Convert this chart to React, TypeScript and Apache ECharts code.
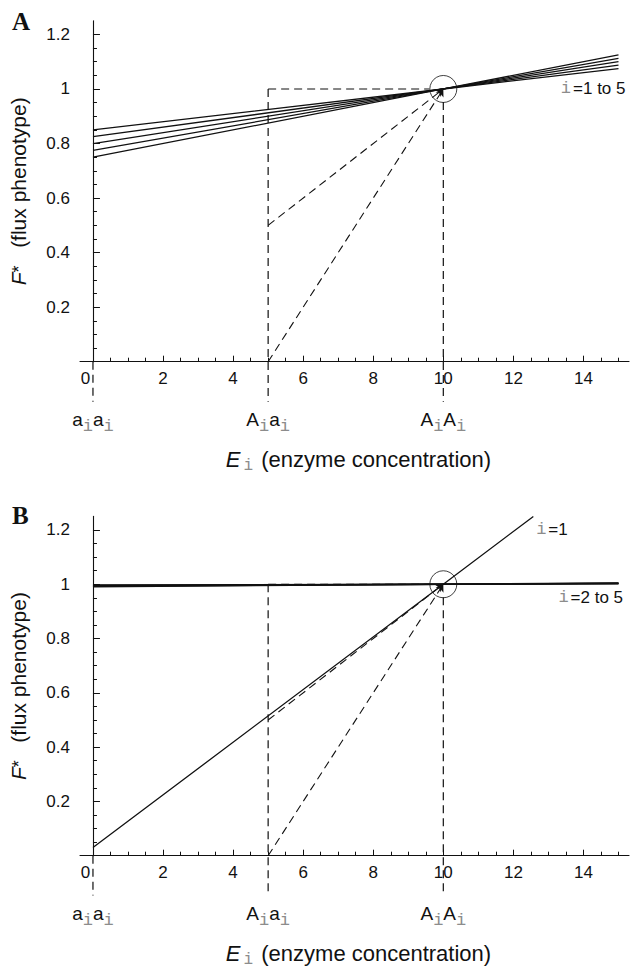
import React, { useEffect, useRef } from "react";
import * as echarts from "echarts";

// ---------- data ----------
const lineE = [0, 10, 15];
const panelAFlux = [
  [0.85, 1, 1.075],
  [0.825, 1, 1.0875],
  [0.8, 1, 1.1],
  [0.775, 1, 1.1125],
  [0.75, 1, 1.125],
];
const panelBSteepE = [0, 10, 12.57];
const panelBSteepFlux = [0.03, 1, 1.25];
const panelBFlatFlux = [
  [0.997, 1, 1.0015],
  [0.995, 1, 1.0025],
  [0.993, 1, 1.0035],
  [0.991, 1, 1.0045],
];
const genotypeE = [0, 5, 10];
const genotypeAlleles = [
  ["a", "a"],
  ["A", "a"],
  ["A", "A"],
];
const diagonalStarts = [
  [5, 0.5],
  [5, 0],
];
const optimum = [10, 1];
const xMajorTicks = [0, 2, 4, 6, 8, 10, 12, 14];
const xMinorTicks = [0.5, 1, 1.5, 2.5, 3, 3.5, 4.5, 5, 5.5, 6.5, 7, 7.5, 8.5, 9, 9.5, 10.5, 11, 11.5, 12.5, 13, 13.5, 14.5, 15];
const yMajorTicks = [0.2, 0.4, 0.6, 0.8, 1, 1.2];
const yMinorTicks = [0.05, 0.1, 0.15, 0.25, 0.3, 0.35, 0.45, 0.5, 0.55, 0.65, 0.7, 0.75, 0.85, 0.9, 0.95, 1.05, 1.1, 1.15];

// ---------- layout / style ----------
const X_MIN = -0.37;
const X_MAX = 15.3;
const Y_MAX = 1.25;
const GUIDE_LOW = -0.147;
const GUIDE_TOP_AT_OPT = 0.952;
const HORIZ_END = 9.6;

const FONT = "'Liberation Sans', Arial, Helvetica, sans-serif";
const MONO = "'Liberation Mono', 'DejaVu Sans Mono', monospace";
const SERIF = "'Liberation Serif', 'Times New Roman', serif";
const INK = "#111111";
const GREY = "#8c8c8c";

const xTitle = "{e|E}{s|i}{n| (enzyme concentration)}";
const yTitle = "{f|F}{a|*}{n|   (flux phenotype)}";

function mkX(gridIndex: number, minor: boolean) {
  return {
    type: "value",
    gridIndex,
    min: X_MIN,
    max: X_MAX,
    position: "bottom",
    axisLine: { show: !minor, onZero: true, lineStyle: { color: INK, width: 1.1 } },
    axisTick: {
      show: true,
      inside: true,
      length: minor ? 4 : 6,
      customValues: minor ? xMinorTicks : xMajorTicks,
      lineStyle: { color: INK, width: 1 },
    },
    axisLabel: minor
      ? { show: false }
      : {
          show: true,
          customValues: xMajorTicks,
          margin: 8,
          color: INK,
          fontSize: 17,
          fontFamily: FONT,
          formatter: (v: number) => (v === 0 ? "{z|0}" : String(v)),
          rich: { z: { padding: [0, 15, 0, 0], fontSize: 17, fontFamily: FONT, color: INK } },
        },
    splitLine: { show: false },
    name: minor ? "" : xTitle,
    nameLocation: "middle",
    nameGap: 83,
    nameTextStyle: {
      padding: [0, 0, 0, 8],
      rich: {
        e: { fontStyle: "italic", fontSize: 22, fontFamily: FONT, color: INK },
        s: { fontSize: 16, fontFamily: MONO, color: GREY, padding: [13, 2, 0, 3] },
        n: { fontSize: 22, fontFamily: FONT, color: INK },
      },
    },
  };
}

function mkY(gridIndex: number, minor: boolean) {
  return {
    type: "value",
    gridIndex,
    min: 0,
    max: Y_MAX,
    position: "left",
    axisLine: { show: !minor, onZero: true, lineStyle: { color: INK, width: 1.1 } },
    axisTick: {
      show: true,
      inside: true,
      length: minor ? 4 : 7,
      customValues: minor ? yMinorTicks : yMajorTicks,
      lineStyle: { color: INK, width: 1 },
    },
    axisLabel: minor
      ? { show: false }
      : {
          show: true,
          customValues: yMajorTicks,
          margin: 10,
          color: INK,
          fontSize: 17,
          fontFamily: FONT,
          formatter: (v: number) => String(+v.toFixed(2)),
        },
    splitLine: { show: false },
    name: minor ? "" : yTitle,
    nameLocation: "middle",
    nameRotate: 90,
    nameGap: 51,
    nameTextStyle: {
      rich: {
        f: { fontStyle: "italic", fontSize: 21, fontFamily: FONT, color: INK },
        a: { fontSize: 18, fontFamily: FONT, color: INK },
        n: { fontSize: 21, fontFamily: FONT, color: INK },
      },
    },
  };
}

function solid(xi: number, yi: number, xs: number[], ys: number[], width: number) {
  return {
    type: "line",
    xAxisIndex: xi,
    yAxisIndex: yi,
    data: xs.map((x, k) => [x, ys[k]]),
    symbol: "none",
    showSymbol: false,
    lineStyle: { color: INK, width },
    silent: true,
    z: 4,
  };
}

function dashed(xi: number, yi: number, pts: number[][]) {
  return {
    type: "line",
    xAxisIndex: xi,
    yAxisIndex: yi,
    data: pts,
    symbol: "none",
    showSymbol: false,
    clip: false,
    lineStyle: { color: INK, width: 1.2, type: [8, 5] },
    silent: true,
    z: 3,
  };
}

function guides(xi: number, yi: number) {
  const [e0, e1, e2] = genotypeE;
  return [
    dashed(xi, yi, [[e0, 0], [e0, GUIDE_LOW]]),
    dashed(xi, yi, [[e1, optimum[1]], [e1, GUIDE_LOW]]),
    dashed(xi, yi, [[e2, GUIDE_TOP_AT_OPT], [e2, GUIDE_LOW]]),
    dashed(xi, yi, [[e1, optimum[1]], [HORIZ_END, optimum[1]]]),
    {
      type: "line",
      xAxisIndex: xi,
      yAxisIndex: yi,
      data: [],
      silent: true,
      markLine: {
        silent: true,
        animation: false,
        symbol: ["none", "arrow"],
        symbolSize: 7,
        label: { show: false },
        lineStyle: { color: INK, width: 1.1, type: [8, 5] },
        emphasis: { disabled: true },
        data: diagonalStarts.map((s) => [{ coord: s }, { coord: optimum }]),
      },
    },
    {
      type: "scatter",
      xAxisIndex: xi,
      yAxisIndex: yi,
      data: [optimum],
      symbol: "circle",
      symbolSize: 27,
      silent: true,
      itemStyle: { color: "rgba(0,0,0,0)", borderColor: INK, borderWidth: 1 },
      z: 5,
    },
  ];
}

function buildOption() {
  const series: any[] = [];
  panelAFlux.forEach((ys) => series.push(solid(0, 0, lineE, ys, 1.3)));
  series.push(...guides(0, 0));
  series.push(solid(2, 2, panelBSteepE, panelBSteepFlux, 1.3));
  panelBFlatFlux.forEach((ys) => series.push(solid(2, 2, lineE, ys, 1.5)));
  series.push(...guides(2, 2));
  return {
    animation: false,
    backgroundColor: "#ffffff",
    grid: [
      { left: 80, top: 20.8, width: 549, height: 340.9, outerBoundsMode: "none", containLabel: false },
      { left: 80, top: 516.4, width: 549, height: 339.3, outerBoundsMode: "none", containLabel: false },
    ],
    xAxis: [mkX(0, false), mkX(0, true), mkX(1, false), mkX(1, true)],
    yAxis: [mkY(0, false), mkY(0, true), mkY(1, false), mkY(1, true)],
    series,
  };
}

const labelRich = {
  n: { fontSize: 19, fontFamily: FONT, fill: INK },
  s: { fontSize: 17, fontFamily: MONO, fill: GREY, padding: [13, 0, 0, 0] },
};
const annRich = {
  n: { fontSize: 17, fontFamily: FONT, fill: INK },
  s: { fontSize: 17, fontFamily: MONO, fill: GREY, padding: [0, 2, 0, 0] },
};

function buildGraphics(chart: any) {
  const g: any[] = [];
  const panels = [
    { xi: 0, yi: 0, letter: "A", letterTop: 9 },
    { xi: 2, yi: 2, letter: "B", letterTop: 503 },
  ];
  const px = (p: any, x: number, y: number) =>
    chart.convertToPixel({ xAxisIndex: p.xi, yAxisIndex: p.yi }, [x, y]);
  panels.forEach((p) => {
    g.push({
      type: "text",
      left: 12,
      top: p.letterTop,
      silent: true,
      style: { text: p.letter, fontSize: 25, fontWeight: "bold", fontFamily: SERIF, fill: INK },
    });
    genotypeE.forEach((e, k) => {
      const [x, y] = px(p, e, 0);
      const [a1, a2] = genotypeAlleles[k];
      g.push({
        type: "text",
        x,
        y: y + 58,
        silent: true,
        style: {
          text: `{n|${a1}}{s|i}{n|${a2}}{s|i}`,
          rich: labelRich,
          align: "center",
          verticalAlign: "middle",
          textAlign: "center",
          textVerticalAlign: "middle",
        },
      });
    });
  });
  const anns = [
    { p: panels[0], x: 15.2, y: 1.0, text: "{s|i}{n|=1 to 5}", align: "right" },
    { p: panels[1], x: 12.65, y: 1.2, text: "{s|i}{n|=1}", align: "left" },
    { p: panels[1], x: 15.13, y: 0.951, text: "{s|i}{n|=2 to 5}", align: "right" },
  ];
  anns.forEach((a) => {
    const [x, y] = px(a.p, a.x, a.y);
    g.push({
      type: "text",
      x,
      y,
      silent: true,
      style: {
        text: a.text,
        rich: annRich,
        align: a.align,
        verticalAlign: "middle",
        textAlign: a.align,
        textVerticalAlign: "middle",
      },
    });
  });
  return g;
}

export default function App() {
  const ref = useRef<HTMLDivElement>(null);
  useEffect(() => {
    if (!ref.current) return;
    const chart = echarts.init(ref.current, null, { renderer: "svg" });
    chart.setOption(buildOption() as any);
    chart.setOption({ graphic: buildGraphics(chart) } as any);
    return () => chart.dispose();
  }, []);
  return (
    <div
      ref={ref}
      style={{ position: "absolute", left: 0, top: 0, width: 630, height: 969, background: "#fff" }}
    />
  );
}
